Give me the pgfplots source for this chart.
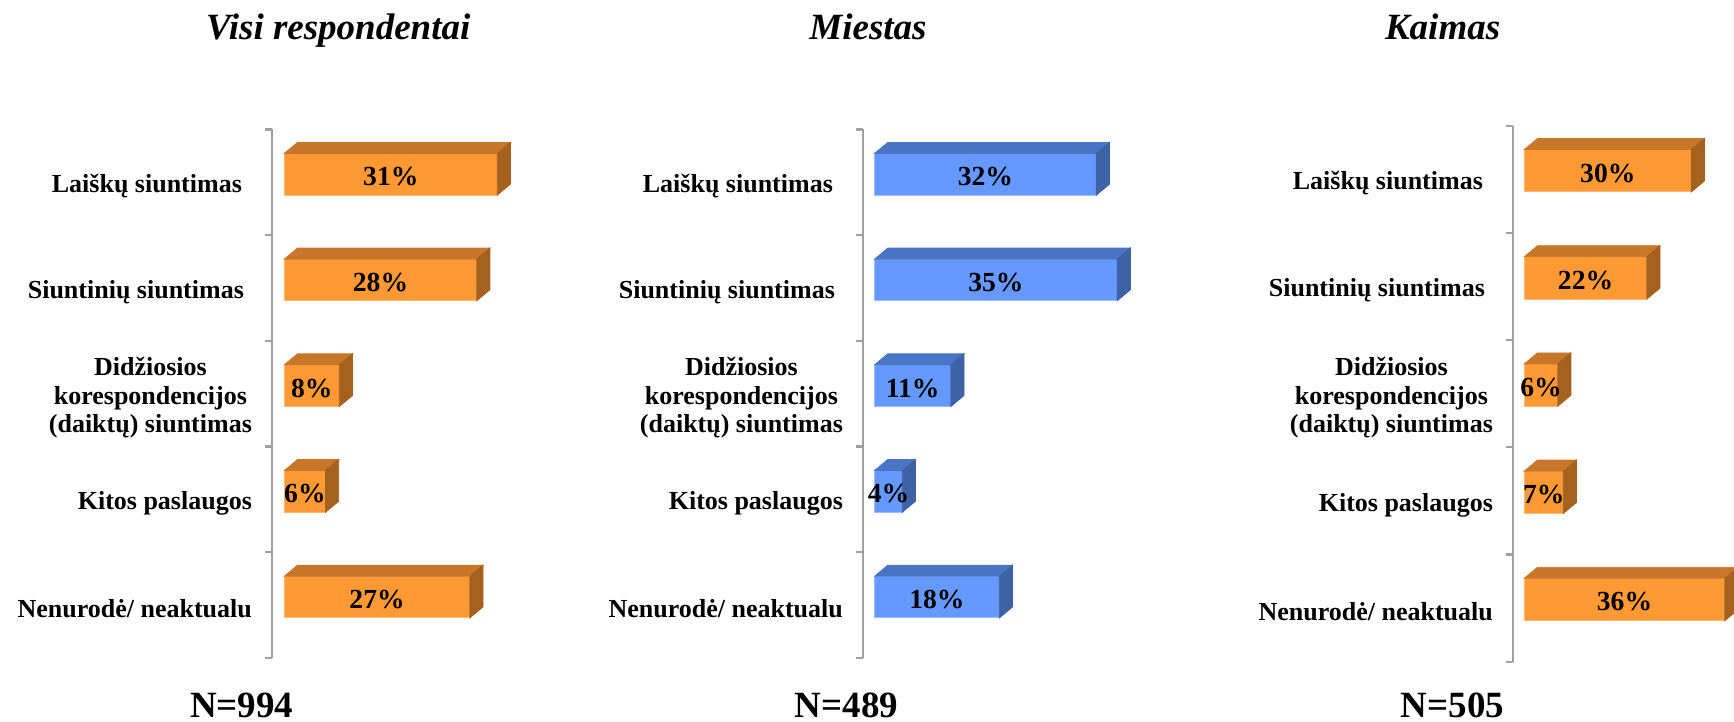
\documentclass[border=0pt]{standalone}
\usepackage{fontspec}
\setmainfont{Liberation Serif}
\usepackage{pgfplots}
\pgfplotsset{compat=1.18}
\usepackage{pgfplotstable}

\definecolor{ofront}{HTML}{FF9933}
\definecolor{otop}{HTML}{C8762A}
\definecolor{oside}{HTML}{A5621F}
\definecolor{oedge}{HTML}{FFB870}
\definecolor{bfront}{HTML}{6699FF}
\definecolor{btop}{HTML}{4A74C4}
\definecolor{bside}{HTML}{3E62A6}
\definecolor{bedge}{HTML}{99BBFF}
\definecolor{axgray}{HTML}{A0A0A0}

% pos: 4 = top category (Laiškų siuntimas) ... 0 = bottom (Nenurodė/ neaktualu)
\pgfplotstableread{
pos v
4 31
3 28
2 8
1 6
0 27
}\dataA
\pgfplotstableread{
pos v
4 32
3 35
2 11
1 4
0 18
}\dataB
\pgfplotstableread{
pos v
4 30
3 22
2 6
1 7
0 36
}\dataC

\newcommand\catfont{\fontsize{13bp}{14.4bp}\selectfont\bfseries}
\newcommand\lblfont{\fontsize{13.8bp}{15bp}\selectfont\bfseries}

\pgfplotsset{
  panel/.style={
    scale only axis, clip=false,
    anchor=north west,
    ymin=-0.5, ymax=4.5,
    axis x line=none,
    axis y line*=left,
    y axis line style={draw=axgray, line width=1.1bp},
    xtick=\empty,
    ytick={0,1,2,3,4},
    yticklabels={Nenurodė/ neaktualu, Kitos paslaugos, {Didžiosios\\korespondencijos\\(daiktų) siuntimas}, {Siuntinių siuntimas\hspace*{4bp}}, {Laiškų siuntimas\hspace*{5bp}}},
    major tick length=0pt,
    minor ytick={-0.5,0.5,1.5,2.5,3.5,4.5},
    minor tick length=3.5bp,
    tick align=outside,
    minor tick style={draw=axgray, line width=1.1bp},
    yticklabel style={font=\catfont, align=center, anchor=east, inner sep=0pt, xshift=-10bp, yshift=-2bp},
  },
  faces/.style n args={5}{%
    scatter, only marks, mark=*, mark size=0pt,
    mark options={draw=none, fill=none},
    visualization depends on={rawx \as \val},
    scatter/@pre marker code/.code={%
      \pgfmathsetmacro\xa{-\val*#1}%
      \pgfmathsetmacro\xad{\xa+6.6}%
      \pgfmathsetmacro\xm{\xa/2}%
      \pgfmathsetmacro\yt{#2+#3}%
      \pgfmathsetmacro\yb{#2-#3}%
      \pgfmathsetmacro\ytt{\yt+5.5}%
      \pgfmathsetmacro\ybd{\yb+5.5}%
      \pgfmathsetmacro\ym{#2-1.2}%
      \pgfmathtruncatemacro\vi{round(\val)}%
      \fill[#4] (\xa bp,\yt bp) -- (0bp,\yt bp) -- (6.6bp,\ytt bp) -- (\xad bp,\ytt bp) -- cycle;
      \fill[#5] (0bp,\yt bp) -- (0bp,\yb bp) -- (6.6bp,\ybd bp) -- (6.6bp,\ytt bp) -- cycle;
      \node[font=\lblfont, inner sep=0pt] at (\xm bp,\ym bp) {\vi\%};
    },
    scatter/@post marker code/.code={},
  },
}

\begin{document}
\begin{tikzpicture}
\useasboundingbox (0,0) rectangle (867bp,-361bp);

% Panel 1
\begin{axis}[panel, at={(136.15bp,-64.7bp)}, x=3.435bp, y=52.85bp, xmin=-1.75, xmax=40]
\addplot[xbar, bar width=20.85bp, bar shift=4bp, fill=ofront, draw=oedge, line width=0.5bp] table[x=v,y=pos]{\dataA};
\addplot[faces={3.435}{4}{10.425}{otop}{oside}] table[x=v,y=pos]{\dataA};
\end{axis}

% Panel 2
\begin{axis}[panel, at={(431.65bp,-64.7bp)}, x=3.465bp, y=52.85bp, xmin=-1.63, xmax=40]
\addplot[xbar, bar width=20.85bp, bar shift=4bp, fill=bfront, draw=bedge, line width=0.5bp] table[x=v,y=pos]{\dataB};
\addplot[faces={3.465}{4}{10.425}{btop}{bside}] table[x=v,y=pos]{\dataB};
\end{axis}

% Panel 3
\begin{axis}[panel, at={(756.65bp,-62.85bp)}, x=2.785bp, y=53.6bp, xmin=-1.97, xmax=38]
\addplot[xbar, bar width=21.2bp, bar shift=4.3bp, fill=ofront, draw=oedge, line width=0.5bp] table[x=v,y=pos]{\dataC};
\addplot[faces={2.785}{4.3}{10.6}{otop}{oside}] table[x=v,y=pos]{\dataC};
\end{axis}

% Titles
\node[anchor=base, font=\fontsize{18.5bp}{20bp}\selectfont\bfseries\itshape] at (169.15bp,-19.5bp) {Visi respondentai};
\node[anchor=base, font=\fontsize{18.5bp}{20bp}\selectfont\bfseries\itshape] at (434bp,-19.5bp) {Miestas};
\node[anchor=base, font=\fontsize{18.5bp}{20bp}\selectfont\bfseries\itshape] at (721.3bp,-19.5bp) {Kaimas};

% Sample sizes
\node[anchor=base, font=\fontsize{18.5bp}{20bp}\selectfont\bfseries] at (120.85bp,-358.5bp) {N=994};
\node[anchor=base, font=\fontsize{18.5bp}{20bp}\selectfont\bfseries] at (423.25bp,-358.5bp) {N=489};
\node[anchor=base, font=\fontsize{18.5bp}{20bp}\selectfont\bfseries] at (726.3bp,-358.5bp) {N=505};
\end{tikzpicture}
\end{document}
